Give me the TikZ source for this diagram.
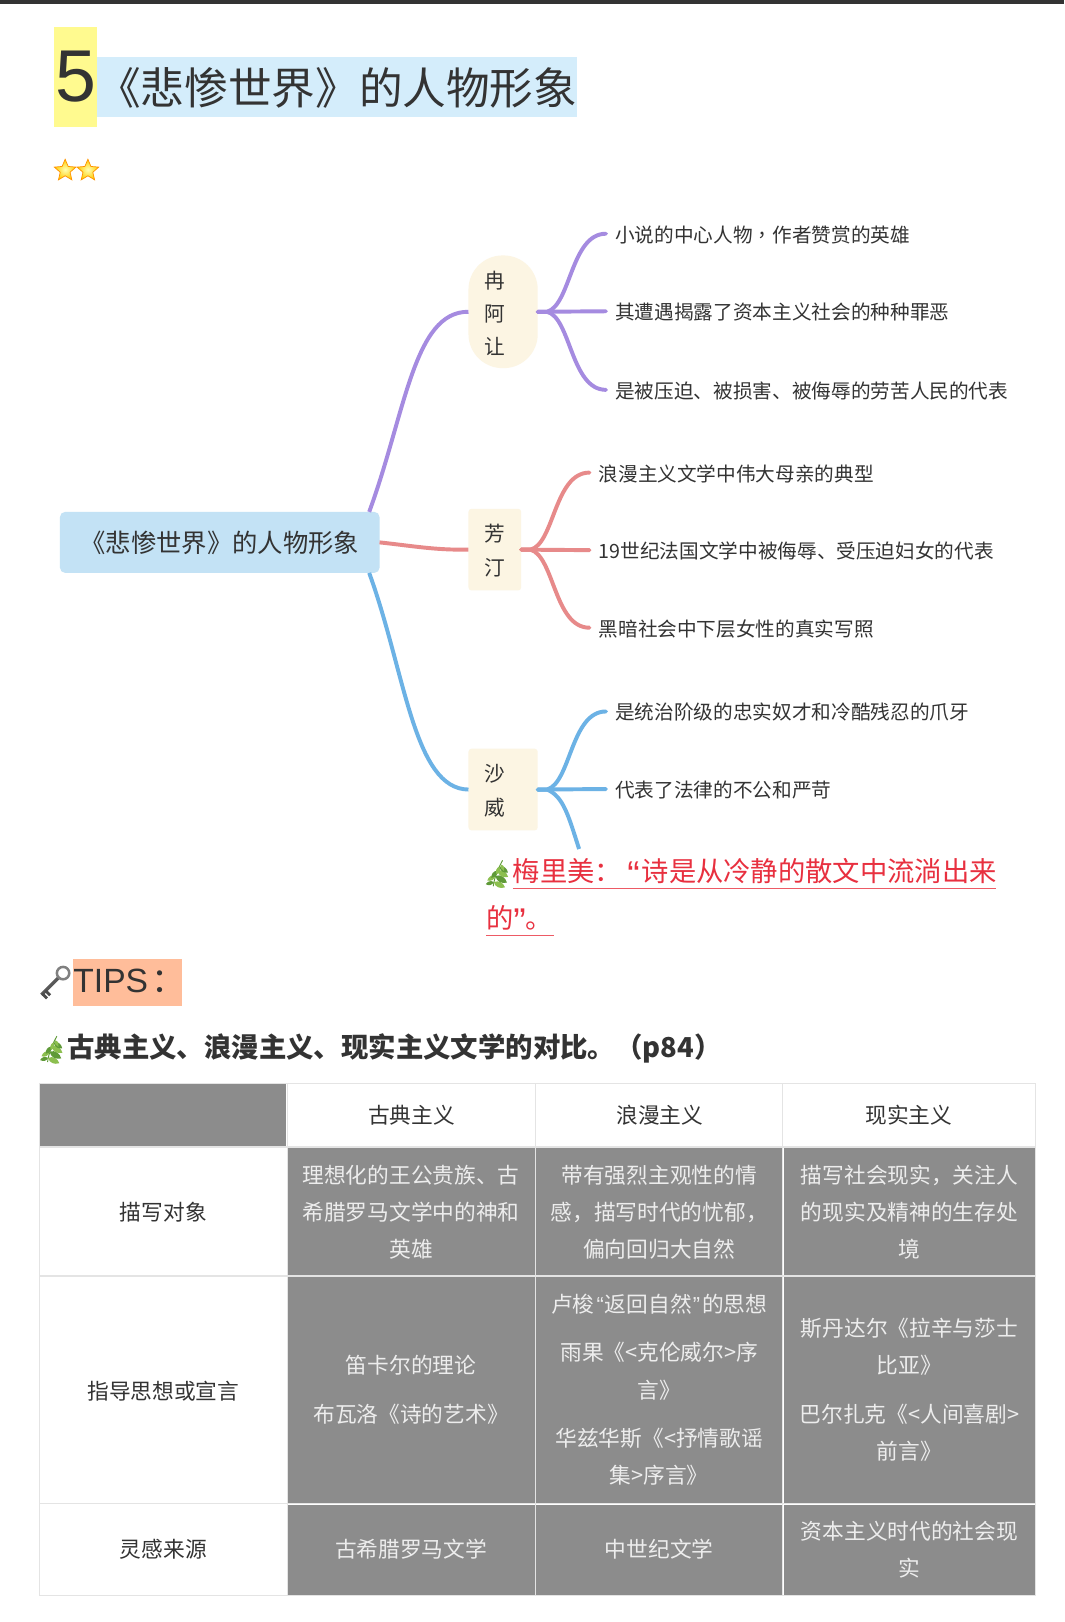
\documentclass[tikz,border=0pt]{standalone}
\usepackage{fontspec}
\setmainfont{Noto Sans CJK SC}
\newfontfamily\tcfont{Noto Sans CJK TC}
\newfontfamily\latinfont{Liberation Sans}
\usetikzlibrary{shapes.geometric}
\definecolor{ink}{HTML}{333333}
\definecolor{purp}{HTML}{A58BE0}
\definecolor{redl}{HTML}{E78A8A}
\definecolor{blul}{HTML}{6CB2E5}
\definecolor{cream}{HTML}{FCF5E3}
\definecolor{rootb}{HTML}{C3E2F5}
\definecolor{titleb}{HTML}{D4EDFB}
\definecolor{yel}{HTML}{FFFA8F}
\definecolor{peach}{HTML}{FFBD9A}
\definecolor{cellg}{HTML}{8C8C8C}
\definecolor{rule}{HTML}{E4E4E4}
\definecolor{redt}{HTML}{E8303F}
\definecolor{herbg}{HTML}{8CBF4F}
\definecolor{herbd}{HTML}{5F9A38}
\newcommand{\fs}[2]{\fontsize{#1}{#2}\selectfont}
\newcommand{\btext}[3]{\raisebox{#1}[0pt][0pt]{\makebox[0pt]{\hspace{#2}\parbox{20pt}{\centering #3}}}}
\newcommand{\qmark}[1]{{\latinfont #1}}
\newcommand{\bigq}[1]{\raisebox{-6pt}{\fs{36}{30}\latinfont #1}}
\newcommand{\herbleaf}[5]{\fill[#5,shift={(#1,#2)},rotate=#3] (0,0) .. controls (#4*0.3,#4*0.34) and (#4*0.7,#4*0.28) .. (#4,0) .. controls (#4*0.7,-#4*0.28) and (#4*0.3,-#4*0.34) .. (0,0);}
\tikzset{
  box/.style={inner sep=0pt,outer sep=0pt,text=ink},
  rootbox/.style={box,fill=rootb,rounded corners=5pt,minimum width=309pt,minimum height=59pt,font=\fs{24.5}{30}},
  branch/.style={box,fill=cream,rounded corners=3pt,font=\fs{20}{32},align=center},
  leaf/.style={box,anchor=west,inner xsep=9pt,font=\fs{19}{24},text height=18pt,text depth=1.6pt},
  link/.style={line width=3.8pt,line cap=round},
  gcell/.style={box,fill=cellg,text=white!93!black,align=center,font=\fs{21}{36}},
  wcell/.style={box,text=ink,align=center,font=\fs{21}{36}},
  starshape/.style={star,star points=5,star point ratio=2.2,minimum size=22pt,inner sep=0pt,draw=orange!85!yellow,line width=0.7pt,inner color=white!70!yellow,outer color=yellow!60!orange},
  herb/.pic={
    \draw[herbd,line width=0.9pt] (-5,13) .. controls (-4,5) and (-1,-3) .. (4,-12);
    \herbleaf{-4.5}{9}{-165}{8}{herbd}
    \herbleaf{-4.5}{9}{-25}{12}{herbg}
    \herbleaf{-3}{3}{-150}{9}{herbg}
    \herbleaf{-3}{3}{-30}{13}{herbd}
    \herbleaf{-1}{-2}{-130}{9}{herbd}
    \herbleaf{-1}{-2}{-30}{12}{herbg}
    \herbleaf{1}{-6}{-110}{8}{herbg}
    \herbleaf{1}{-6}{-35}{10}{herbd}
    \herbleaf{2.5}{-8}{-65}{7}{herbg}
  },
  keypic/.pic={
    \draw[black!65,line width=3.2pt] (4,-4) -- (-13,13);
    \draw[black!70,line width=2.8pt] (-9,9) -- (-4.5,13.5) (-12,12) -- (-7.5,16.5);
    \draw[black!50,line width=2.4pt] (8,-8) circle[radius=6];
  },
}
\begin{document}
\begin{tikzpicture}[x=1pt,y=-1pt]
\useasboundingbox (0,0) rectangle (1029,1568.5);
\fill[white] (0,0) rectangle (1029,1568.5);
\fill[black!80] (0,0) rectangle (1029,3.5);
% title
\node[box,fill=titleb,minimum width=463pt,minimum height=58pt,font=\fs{42.2}{42},anchor=west,text height=38pt,text depth=4pt] (title) at (94,84) {《悲惨世界》的人物形象};
\node[box,fill=yel,minimum width=42pt,minimum height=97pt,font=\latinfont\fs{71}{71}] (five) at (73,74.5) {5};
\node[starshape] (s1) at (63,165) {};
\node[starshape] (s2) at (85,165) {};
% mind map nodes
\node[rootbox] (root) at (212.5,524.5) {《悲惨世界》的人物形象};
\node[branch,minimum width=67pt,minimum height=109pt,rounded corners=33pt] (b1) at (486.5,301.5) {\btext{-6.5pt}{-16pt}{冉\\阿\\让}};
\node[branch,minimum width=51pt,minimum height=79pt] (b2) at (478.5,531.5) {\btext{-6pt}{0pt}{芳\\[1pt]汀}};
\node[branch,minimum width=67pt,minimum height=79pt] (b3) at (486.5,763.5) {\btext{-6pt}{-16pt}{沙\\[1pt]威}};
\node[leaf] (l11) at (586,226) {小说的中心人物{\tcfont ，}作者赞赏的英雄};
\node[leaf] (l12) at (586,301) {其遭遇揭露了资本主义社会的种种罪恶};
\node[leaf] (l13) at (586,377) {是被压迫、被损害、被侮辱的劳苦人民的代表};
\node[leaf] (l21) at (570,457) {浪漫主义文学中伟大母亲的典型};
\node[leaf] (l22) at (570,532) {19世纪法国文学中被侮辱、受压迫妇女的代表};
\node[leaf] (l23) at (570,607) {黑暗社会中下层女性的真实写照};
\node[leaf] (l31) at (586,688) {是统治阶级的忠实奴才和冷酷残忍的爪牙};
\node[leaf] (l32) at (586,763) {代表了法律的不公和严苛};
\coordinate (l33) at (560,821);
% connectors
\draw[link,purp,line cap=butt] ([xshift=-10pt]root.north east) .. controls (392,400) and (400,301) .. (b1.west);
\draw[link,redl,line cap=butt] (root.east) .. controls (400,528) and (420,532) .. (b2.west);
\draw[link,blul,line cap=butt] ([xshift=-10pt]root.south east) .. controls (392,650) and (400,763) .. (b3.west);
\draw[link,purp] (b1.east) -- (l12.west);
\draw[link,purp] (b1.east) -- ++(9,0) .. controls (552,295) and (552,226) .. (l11.west);
\draw[link,purp] (b1.east) -- ++(9,0) .. controls (552,307) and (552,377) .. (l13.west);
\draw[link,redl] (b2.east) -- (l22.west);
\draw[link,redl] (b2.east) -- ++(9,0) .. controls (536,526) and (536,457) .. (l21.west);
\draw[link,redl] (b2.east) -- ++(9,0) .. controls (536,538) and (536,607) .. (l23.west);
\draw[link,blul] (b3.east) -- (l32.west);
\draw[link,blul] (b3.east) -- ++(9,0) .. controls (552,757) and (552,688) .. (l31.west);
\draw[link,blul,line cap=butt] (b3.east) -- ++(9,0) .. controls (545,770) and (550,790) .. (l33);
% quote
\pic at (482,844) {herb};
\node[box,anchor=west,text=redt,font=\fs{26.4}{30},text height=24pt,text depth=5pt] (q1) at (496,843) {梅里美：\makebox[19pt][r]{\bigq{“}\hspace{2pt}}诗是从冷静的散文中流淌出来};
\node[box,anchor=west,text=redt,font=\fs{26.4}{30},text height=24pt,text depth=5pt] (q2) at (470,888) {的\makebox[12pt][l]{\bigq{”}}。};
\draw[redt!80!white,line width=1.4pt] (496,859) -- (963,859);
\draw[redt!80!white,line width=1pt] (470,905) -- (536,905);
% tips
\pic at (53,949) {keypic};
\node[box,fill=peach,minimum width=105pt,minimum height=46pt,anchor=west] (tips) at (71,950) {};
\node[box,anchor=west,font=\fs{34}{34}] (tipst) at (71,949) {\latinfont\fs{32.5}{34}TIPS\hspace{3pt}\rmfamily\fs{33}{34}：};
\pic at (51,1014) {herb};
\node[box,anchor=west,font=\bfseries\fs{26.5}{30},text height=21pt,text depth=1pt] (head) at (65,1013) {古典主义、浪漫主义、现实主义文学的对比。（p84）};
% table
\node[box,fill=cellg,minimum width=239pt,minimum height=60pt] (c00) at (157.5,1078.5) {};
\node[gcell,minimum width=239pt,minimum height=124pt] (c11) at (397.5,1172) {理想化的王公贵族、古\\希腊罗马文学中的神和\\英雄};
\node[gcell,minimum width=238pt,minimum height=124pt] (c12) at (637.5,1172) {带有强烈主观性的情\\感，描写时代的忧郁，\\偏向回归大自然};
\node[gcell,minimum width=243pt,minimum height=124pt] (c13) at (879.5,1172) {描写社会现实，关注人\\的现实及精神的生存处\\境};
\node[gcell,minimum width=239pt,minimum height=218pt] (c21) at (397.5,1344) {笛卡尔的理论\\[11pt]布瓦洛《诗的艺术》};
\node[gcell,minimum width=238pt,minimum height=218pt] (c22) at (637.5,1344) {卢梭\hspace{2pt}\qmark{“}\hspace{1pt}返回自然\hspace{1pt}\qmark{”}\hspace{2pt}的思想\\[11pt]雨果《<克伦威尔>序\\言》\\[11pt]华兹华斯《<抒情歌谣\\集>序言》};
\node[gcell,minimum width=243pt,minimum height=218pt] (c23) at (879.5,1344) {斯丹达尔《拉辛与莎士\\比亚》\\[11pt]巴尔扎克《<人间喜剧>\\前言》};
\node[gcell,minimum width=239pt,minimum height=87pt] (c31) at (397.5,1498.5) {古希腊罗马文学};
\node[gcell,minimum width=238pt,minimum height=87pt] (c32) at (637.5,1498.5) {中世纪文学};
\node[gcell,minimum width=243pt,minimum height=87pt] (c33) at (879.5,1498.5) {资本主义时代的社会现\\实};
\node[wcell] (h1) at (398,1078) {古典主义};
\node[wcell] (h2) at (638,1078) {浪漫主义};
\node[wcell] (h3) at (879,1078) {现实主义};
\node[wcell] (r1) at (158,1172) {描写对象};
\node[wcell] (r2) at (158,1345) {指导思想或宣言};
\node[wcell] (r3) at (158,1498.5) {灵感来源};
\draw[rule,line width=1pt] (38,1048) rectangle (1001.5,1543);
\draw[rule,line width=1pt] (278,1048) -- (278,1543) (518,1048) -- (518,1543) (757,1048) -- (757,1543);
\draw[rule,line width=1.4pt] (38,1109) -- (1001.5,1109) (38,1234) -- (1001.5,1234) (38,1454) -- (1001.5,1454);
\end{tikzpicture}
\end{document}
